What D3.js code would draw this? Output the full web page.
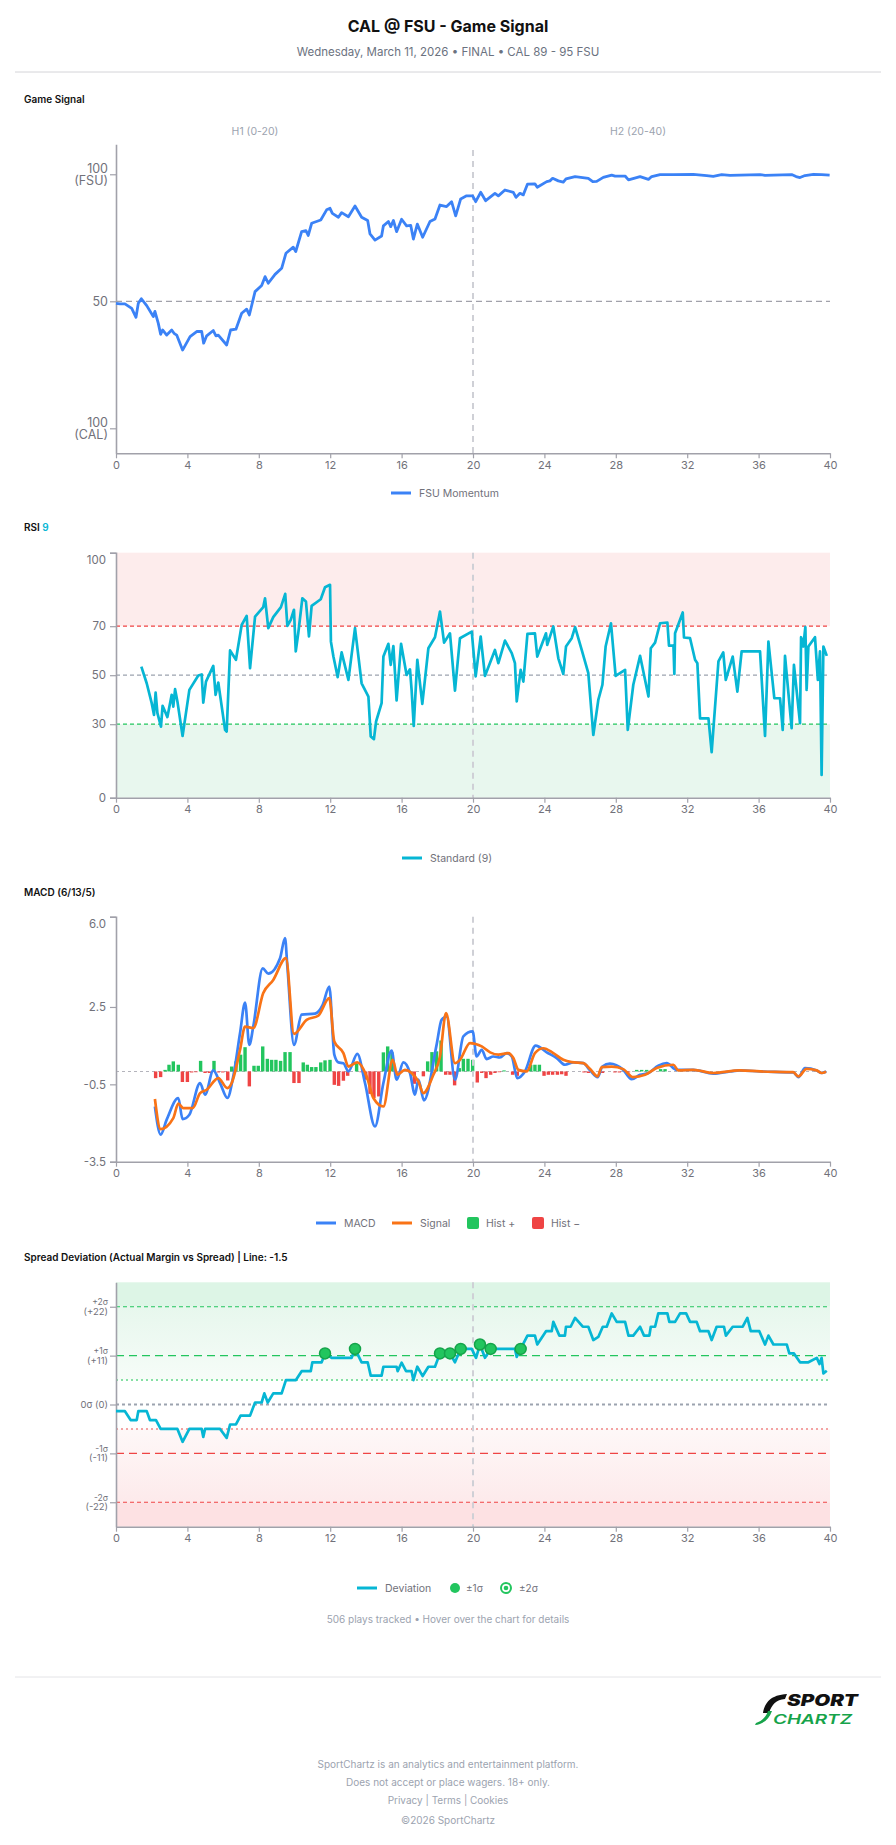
<!DOCTYPE html>
<html><head><meta charset="utf-8">
<script src="https://cdn.jsdelivr.net/npm/d3@7"></script>
<style>
body{margin:0;background:#fff;}
svg{display:block;font-family:Inter,"Noto Sans",sans-serif;}
</style>
</head><body>
<svg id="c" width="896" height="1845"></svg>
<script>
// ---------- DATA ----------
const xTicks = [0,4,8,12,16,20,24,28,32,36,40];
const momentumPts = [[0,49.2],[0.22,49],[0.5,49],[0.88,47.2],[1.12,43.7],[1.25,49.2],[1.42,51],[1.72,48.3],[2.09,44],[2.18,46],[2.37,41.3],[2.5,37],[2.61,38.7],[2.84,36.7],[3.12,38.7],[3.25,37.4],[3.4,36.7],[3.73,30.8],[4.15,36.1],[4.52,38.1],[4.8,38.1],[4.91,33.5],[5.08,36.4],[5.45,38.5],[5.6,36.4],[5.73,36.7],[6.2,32.8],[6.42,38.7],[6.72,39],[7.04,45.3],[7.32,46.9],[7.47,44.6],[7.79,53.8],[8.16,56.2],[8.35,59.7],[8.53,57.1],[8.91,60.6],[9.28,63],[9.52,68.9],[9.93,71.3],[10.07,69.6],[10.4,77.4],[10.64,77.8],[10.77,75.9],[10.96,80.7],[11.47,82],[11.8,86],[11.99,86.6],[12.12,84.6],[12.46,83.1],[12.64,84.9],[13.02,83.3],[13.39,87.5],[13.76,83.1],[14.1,81.8],[14.23,76.5],[14.51,74.1],[14.88,75.7],[14.98,79.7],[15.26,81.4],[15.39,79.4],[15.54,81.8],[15.72,77.4],[16,82.3],[16.28,79.7],[16.51,79.9],[16.66,74.5],[16.88,80.4],[17.18,75.2],[17.59,81.4],[17.87,82.4],[18.15,87.9],[18.52,87.3],[18.8,89.2],[19.03,83.6],[19.31,90.3],[19.64,91.5],[19.98,91.5],[20.15,89.2],[20.43,92.9],[20.71,89.6],[21.23,92.5],[21.42,91.5],[21.79,93.8],[22.26,92.9],[22.41,90.9],[22.63,92.5],[22.82,91.9],[23.05,96.1],[23.47,96.2],[23.6,94.9],[24.13,97.1],[24.31,97.4],[24.46,98.4],[24.78,97.4],[25.06,96.9],[25.21,98.2],[25.72,99.1],[26.46,98.4],[26.71,97.1],[26.93,97.2],[27.3,98.8],[27.77,99.7],[27.96,99.3],[28.52,99.3],[28.71,97.8],[29.36,99.1],[29.83,98],[30.01,99.1],[30.48,99.9],[31.23,99.9],[32.34,100],[33.09,99.5],[33.46,99.2],[33.93,99.9],[34.4,99.6],[36.08,99.9],[36.36,99.6],[36.83,99.7],[37.85,99.9],[38.1,99.1],[38.32,98.7],[38.6,99.5],[39.07,100],[39.53,99.9],[39.98,99.7]];
const rsiPts = [[1.42,53.5],[1.72,46.7],[2.0,38.6],[2.13,33.8],[2.22,42.9],[2.32,34.5],[2.52,29],[2.61,37.5],[2.88,32.9],[3.12,42],[3.21,37.2],[3.31,44.3],[3.44,39.3],[3.73,25.2],[4.11,44],[4.61,49.9],[4.8,50.3],[4.89,38.8],[5.04,47.4],[5.45,53.8],[5.58,42],[5.73,47],[6.11,27.7],[6.2,27],[6.39,60.1],[6.72,56.3],[7.04,70.5],[7.32,74.2],[7.51,52.9],[7.79,73.9],[8.25,77.8],[8.35,81.4],[8.53,69.2],[8.81,73.7],[9.24,77.8],[9.48,83.2],[9.6,70.1],[9.79,72.6],[9.97,76.7],[10.07,59.7],[10.21,67.1],[10.44,81.4],[10.64,80.1],[10.81,65.8],[10.96,78.3],[11.47,81],[11.71,85.9],[11.99,86.9],[12.04,63.7],[12.18,57.6],[12.42,49.2],[12.64,59.3],[13.02,48.1],[13.39,69.2],[13.76,46.7],[14.14,41.3],[14.27,25],[14.45,23.9],[14.57,31.1],[14.88,38.6],[14.98,57.6],[15.26,62.8],[15.39,54.2],[15.54,61.9],[15.72,39.7],[15.97,62.8],[16.28,50.1],[16.47,52.4],[16.56,44],[16.68,29.3],[16.88,56.3],[17.16,38.3],[17.5,61],[17.87,65.5],[18.15,76],[18.38,63.3],[18.71,67.1],[18.99,43.7],[19.27,65.1],[19.93,67.8],[20.15,49.5],[20.43,65.8],[20.67,49.7],[21.23,60.3],[21.42,54.9],[21.79,64.1],[22.17,59],[22.35,54.9],[22.45,39.3],[22.67,52.2],[22.82,47.4],[23.05,66.9],[23.47,67.1],[23.6,57.6],[24.09,67.1],[24.16,62.4],[24.5,69.9],[24.78,56.9],[25.06,50.5],[25.21,61.7],[25.53,65.1],[25.72,69.6],[26.09,60.3],[26.46,50.8],[26.74,25.6],[27.02,39.9],[27.25,46.1],[27.43,61.7],[27.73,71.2],[27.99,49.7],[28.52,52.2],[28.67,27.7],[28.98,46.1],[29.36,57.9],[29.83,41.3],[29.96,61],[30.2,63.3],[30.48,71.2],[30.89,71.5],[30.98,62.1],[31.23,62.1],[31.28,50.5],[31.32,67.1],[31.75,75.6],[31.82,65.4],[32.16,65.1],[32.44,56.3],[32.57,54.9],[32.72,32.4],[33.19,32.4],[33.37,18.6],[33.75,55.6],[34.02,59.3],[34.16,48.1],[34.55,57.6],[34.81,43.3],[35.05,59.7],[36.08,59.7],[36.36,25.2],[36.55,63.7],[36.88,40.6],[37.2,40.6],[37.35,27.7],[37.48,57.9],[37.85,28.4],[37.98,54.2],[38.32,30.4],[38.38,65.5],[38.5,61.7],[38.62,69.6],[38.69,44],[38.79,61.7],[39.16,65.5],[39.32,48.1],[39.44,59.7],[39.53,9.3],[39.63,61.7],[39.82,57.9]];
const rsiTicks = [0,30,50,70,100];
const macdPts = [[2.18,-1.36],[2.5,-2.45],[2.84,-1.87],[3.49,-1.03],[3.73,-1.85],[4.11,-1.68],[4.71,-0.45],[4.99,-0.9],[5.45,0.04],[5.83,-0.45],[6.24,-1.03],[6.57,-0.19],[6.95,1.49],[7.23,2.67],[7.47,1.03],[7.69,1.74],[8.22,4.0],[8.53,3.79],[9.19,4.39],[9.47,5.17],[9.6,4.07],[9.97,1.03],[10.4,2.2],[11.15,2.24],[11.58,2.58],[11.95,3.29],[12.23,0.65],[12.46,0.35],[12.74,0.32],[13.02,0],[13.52,0.68],[13.95,-0.45],[14.51,-2.13],[14.98,-0.45],[15.44,0.81],[15.72,-0.32],[16.1,0.35],[16.47,-0.06],[16.75,-0.9],[16.94,-0.32],[17.25,-1.12],[17.96,1.03],[18.24,2.0],[18.52,2.13],[18.99,-0.32],[19.46,1.36],[19.98,1.55],[20.2,0.58],[20.49,0.84],[20.76,0.48],[21.14,0.58],[21.51,0.54],[21.88,0.71],[22.17,0.58],[22.48,-0.26],[22.91,0],[23.51,1.0],[24.13,0.74],[24.69,0.52],[25.15,0.26],[25.62,0.35],[26.18,0.32],[26.56,0.04],[26.98,-0.22],[27.25,0.19],[27.67,0.3],[28.42,0.06],[28.89,-0.3],[29.36,-0.13],[29.83,-0.06],[30.38,0.22],[30.85,0.32],[31.41,0.06],[32.34,0.06],[33.46,-0.09],[34.4,0],[34.95,0.04],[36.08,0],[37.94,-0.04],[38.23,-0.22],[38.6,0.13],[39.25,0.04],[39.53,-0.06],[39.78,0]];
const signalPts = [[2.18,-1.07],[2.5,-2.24],[3.21,-1.81],[3.49,-1.25],[3.77,-1.42],[4.3,-1.42],[4.71,-0.84],[5.08,-0.71],[5.73,-0.26],[6.24,-0.65],[6.48,-0.45],[6.95,0.84],[7.23,1.74],[7.69,1.68],[8.25,3.04],[8.81,3.55],[9.52,4.39],[9.97,1.46],[10.68,2.0],[11.33,2.16],[11.95,2.84],[12.23,1.16],[12.74,0.71],[13.02,0.19],[13.52,0.35],[14.04,-0.19],[14.42,-1.03],[14.98,-1.36],[15.5,0.45],[15.76,-0.13],[16.19,0.06],[16.56,-0.06],[16.94,-0.39],[17.22,-0.84],[17.78,-0.13],[18.15,0.58],[18.49,2.26],[18.99,0.32],[19.27,0.45],[19.83,1.1],[20.49,0.97],[20.96,0.74],[21.42,0.65],[21.98,0.71],[22.26,0.52],[22.54,0.06],[23.01,0],[23.47,0.71],[23.94,0.9],[24.5,0.71],[25.06,0.45],[25.53,0.36],[26.18,0.32],[26.56,0.09],[26.98,-0.19],[27.21,0.17],[27.77,0.19],[28.42,0.09],[28.95,-0.22],[29.64,-0.13],[30.29,0.13],[31.23,0.26],[31.5,0.04],[32.34,0.06],[33.46,-0.06],[34.95,0.04],[36.08,0],[37.94,-0.03],[38.23,-0.19],[38.69,0.1],[39.25,0.04],[39.53,-0.06],[39.78,-0.01]];
const histPts = [[2.22,-0.26],[2.5,-0.22],[2.75,0.06],[2.97,0.26],[3.21,0.39],[3.49,0.26],[3.72,-0.41],[4.0,-0.41],[4.24,-0.04],[4.48,-0.03],[4.74,0.41],[4.99,-0.06],[5.23,-0.06],[5.49,0.41],[5.73,-0.04],[5.98,-0.04],[6.26,-0.35],[6.48,0.19],[6.72,0.39],[6.98,0.65],[7.23,0.94],[7.47,-0.58],[7.73,0.22],[7.97,0.22],[8.22,0.97],[8.48,0.49],[8.72,0.45],[8.96,0.45],[9.22,0.41],[9.47,0.75],[9.75,0.75],[9.97,-0.45],[10.25,-0.45],[10.49,0.35],[10.72,0.26],[10.96,0.17],[11.2,0.17],[11.47,0.35],[11.71,0.43],[11.99,0.45],[12.23,-0.52],[12.47,-0.56],[12.74,-0.36],[12.98,-0.17],[13.48,0.3],[13.73,-0.03],[13.99,-0.32],[14.23,-0.87],[14.45,-1.03],[14.72,-0.97],[14.98,0.74],[15.22,0.97],[15.46,0.74],[15.72,-0.05],[16.71,-0.48],[17.22,-0.19],[17.46,0.39],[17.7,0.75],[17.96,0.78],[18.21,1.2],[18.47,-0.13],[18.71,-0.13],[18.97,-0.54],[19.23,0.13],[19.46,0.49],[19.72,0.49],[19.98,0.45],[20.24,-0.43],[20.49,-0.06],[20.73,-0.26],[20.99,-0.13],[21.23,-0.06],[21.47,-0.03],[21.74,0.04],[22.22,-0.13],[22.48,-0.17],[22.97,0.04],[23.23,0.26],[23.47,0.26],[23.72,0.26],[23.98,-0.17],[24.22,-0.13],[24.46,-0.13],[24.73,-0.13],[24.97,-0.11],[25.21,-0.17],[26.22,-0.04],[26.46,-0.06],[27.26,-0.06],[27.95,-0.04],[28.2,-0.04],[28.71,-0.04],[29.17,0.06],[29.45,0.06],[29.73,0.06],[30.51,0.09],[30.76,0.09]];
const macdTicks = [-3.5,-0.5,2.5,6.0];
const spreadPts = [[0,-1.5],[0.5,-1.5],[0.82,-3.5],[1.16,-3.5],[1.25,-1.5],[1.72,-1.5],[1.9,-3.5],[2.24,-3.5],[2.5,-5.5],[3.44,-5.5],[3.73,-8.4],[4.11,-5.5],[4.8,-5.5],[4.89,-7.3],[4.99,-5.5],[5.83,-5.5],[6.2,-7.5],[6.39,-4.5],[6.72,-4.5],[6.98,-2.5],[7.51,-2.5],[7.79,0.45],[8.16,0.45],[8.31,2.5],[8.5,0.45],[8.81,2.5],[9.28,2.5],[9.52,5.5],[10.08,5.5],[10.4,7.5],[10.91,7.5],[11.0,9.5],[11.52,9.5],[11.71,11.5],[12.08,10.5],[13.2,10.5],[13.39,12.5],[13.76,9.5],[14.1,9.5],[14.27,6.5],[14.88,6.5],[14.98,8.5],[15.72,8.5],[15.78,7.5],[16.0,9.4],[16.25,7.5],[16.56,7.5],[16.66,5.5],[16.88,8.5],[17.18,6.4],[17.5,8.5],[17.87,8.5],[18.15,11.5],[18.71,11.5],[18.99,9.5],[19.31,12.5],[19.93,12.5],[20.17,10.5],[20.39,13.5],[20.67,10.5],[20.99,12.5],[22.35,12.5],[22.45,10.7],[22.67,12.5],[23.05,15.5],[23.47,15.5],[23.6,13.5],[24.09,16.5],[24.41,16.5],[24.5,18.6],[24.84,15.5],[25.15,15.5],[25.21,17.5],[25.47,17.5],[25.72,19.5],[26.15,17.5],[26.46,17.5],[26.74,14.5],[27.02,15.2],[27.27,17.5],[27.49,17.5],[27.77,20.5],[28.05,18.6],[28.52,18.6],[28.71,15.5],[28.98,15.5],[29.36,17.5],[29.58,15.5],[29.88,15.5],[29.96,17.5],[30.2,17.5],[30.38,20.5],[30.89,20.5],[31.0,18.6],[31.32,18.6],[31.6,20.5],[31.94,20.5],[32.16,18.6],[32.53,18.6],[32.72,16.5],[33.19,16.5],[33.37,14.5],[33.65,17.5],[34.06,17.5],[34.17,15.5],[34.55,17.5],[35.11,17.5],[35.37,19.5],[35.56,16.5],[36.04,16.5],[36.36,13.5],[36.55,15.5],[36.83,13.5],[37.58,13.5],[37.72,11.5],[37.98,11.5],[38.32,9.5],[38.79,9.5],[39.26,10.5],[39.41,9.1],[39.53,10.5],[39.63,7.0],[39.82,7.6]];
const sigmaDots = [[11.71,11.5],[13.39,12.5],[18.15,11.5],[18.71,11.5],[19.31,12.5],[20.39,13.5],[20.99,12.5],[22.67,12.5]];
const spreadTickVals = [22,11,0,-11,-22];
const spreadTickTop = ['+2σ','+1σ','0σ (0)','-1σ','-2σ'];
const spreadTickBottom = ['(+22)','(+11)','','(-11)','(-22)'];

// ---------- SETUP ----------
const svg = d3.select('#c');
const AX = '#a1a1aa', TXT = '#71717a';
const BLUE = '#3b82f6', CYAN = '#06b6d4', ORANGE = '#f97316', GREEN = '#22c55e', RED = '#ef4444';
const x = d3.scaleLinear().domain([0,40]).range([116,830]);

function styleAxis(g, fs){
  g.select('.domain').attr('stroke',AX).attr('stroke-width',1.6);
  g.selectAll('.tick line').attr('stroke',AX).attr('stroke-width',1.2);
  g.selectAll('.tick text').attr('fill',TXT).attr('font-size',fs||11).attr('font-family','Inter, sans-serif');
}
function xAxis(y0){
  const g = svg.append('g').attr('transform',`translate(0,${y0})`)
    .call(d3.axisBottom(x).tickValues(xTicks).tickSize(5).tickSizeOuter(0).tickPadding(3));
  styleAxis(g,11);
}
function hline(y, x1, x2, color, dash, w){
  svg.append('line').attr('x1',x1).attr('x2',x2).attr('y1',y).attr('y2',y)
    .attr('stroke',color).attr('stroke-dasharray',dash).attr('stroke-width',w||1.2);
}
function halftime(y1,y2){
  svg.append('line').attr('x1',x(20)).attr('x2',x(20)).attr('y1',y1).attr('y2',y2)
    .attr('stroke','#cfd0d6').attr('stroke-width',2).attr('stroke-dasharray','6,5');
}
function text(t, xx, yy, opts){
  opts = opts||{};
  return svg.append('text').attr('x',xx).attr('y',yy).text(t)
    .attr('font-size',opts.fs||11).attr('fill',opts.fill||TXT)
    .attr('font-weight',opts.fw||400).attr('text-anchor',opts.anchor||'start')
    .attr('dominant-baseline','central');
}
function legendLine(x1, y, color, label){
  svg.append('line').attr('x1',x1).attr('x2',x1+20).attr('y1',y).attr('y2',y).attr('stroke',color).attr('stroke-width',3);
  text(label, x1+28, y, {fs:10.5});
}

// ---------- HEADER ----------
text('CAL @ FSU - Game Signal', 448, 26, {fs:16, fw:700, fill:'#111'}).attr('text-anchor','middle');
text('Wednesday, March 11, 2026 • FINAL • CAL 89 - 95 FSU', 448, 52, {fs:11.5, fill:'#6b7280', anchor:'middle'});
svg.append('line').attr('x1',15).attr('x2',881).attr('y1',72).attr('y2',72).attr('stroke','#d4d4d8').attr('stroke-width',1);

// ---------- CHART 1: GAME SIGNAL ----------
text('Game Signal', 24, 99, {fs:10, fw:600, fill:'#111'});
text('H1 (0-20)', 255, 131, {fs:10.5, fill:'#9ca3af', anchor:'middle'});
text('H2 (20-40)', 638, 131, {fs:10.5, fill:'#9ca3af', anchor:'middle'});
const ySig = d3.scaleLinear().domain([-9.84,111.8]).range([453.3,144.3]);
hline(ySig(50), 116, 830, '#a1a1aa', '6,4', 1.3);
halftime(150, 453);
{
  const g = svg.append('g').attr('transform','translate(116,0)')
    .call(d3.axisLeft(ySig).tickValues([0,50,100]).tickSize(6).tickSizeOuter(0).tickFormat(()=>''));
  styleAxis(g);
  const lab = {100:['100','(FSU)'],50:['50'],0:['100','(CAL)']};
  [0,50,100].forEach(v=>{
    const L = lab[v];
    if(L.length===1) text(L[0], 108, ySig(v), {fs:12.5, anchor:'end'});
    else { text(L[0],108,ySig(v)-5.5,{fs:12.5,anchor:'end'}); text(L[1],108,ySig(v)+6.5,{fs:12.5,anchor:'end'}); }
  });
}
xAxis(453.3);
svg.append('path').datum(momentumPts)
  .attr('d', d3.line().x(d=>x(d[0])).y(d=>ySig(d[1])))
  .attr('fill','none').attr('stroke',BLUE).attr('stroke-width',2.8).attr('stroke-linejoin','round');
legendLine(391, 493, BLUE, 'FSU Momentum');

// ---------- CHART 2: RSI ----------
{
  const t = text('RSI ', 24, 527, {fs:10, fw:600, fill:'#111'});
  t.append('tspan').attr('fill',CYAN).text('9');
}
const yRsi = d3.scaleLinear().domain([0,100]).range([797.7,552.7]);
svg.append('rect').attr('x',116).attr('width',714).attr('y',yRsi(100)).attr('height',yRsi(70)-yRsi(100)).attr('fill','#fdecec');
svg.append('rect').attr('x',116).attr('width',714).attr('y',yRsi(30)).attr('height',yRsi(0)-yRsi(30)).attr('fill','#e8f7ee');
hline(yRsi(70),116,830,RED,'4,3',1.2);
hline(yRsi(50),116,830,'#9ca3af','4,3',1.2);
hline(yRsi(30),116,830,GREEN,'4,3',1.2);
halftime(552.7, 797.7);
{
  const g = svg.append('g').attr('transform','translate(116,0)')
    .call(d3.axisLeft(yRsi).tickValues(rsiTicks).tickSize(6).tickSizeOuter(6).tickPadding(4));
  styleAxis(g, 11.5);
  g.selectAll('.tick text').filter(d=>d===100).attr('y',7);
}
xAxis(797.7);
svg.append('path').datum(rsiPts)
  .attr('d', d3.line().x(d=>x(d[0])).y(d=>yRsi(d[1])))
  .attr('fill','none').attr('stroke',CYAN).attr('stroke-width',2.7).attr('stroke-linejoin','round');
legendLine(402, 858, CYAN, 'Standard (9)');

// ---------- CHART 3: MACD ----------
text('MACD (6/13/5)', 24, 892, {fs:10, fw:600, fill:'#111'});
const yM = d3.scaleLinear().domain([-3.5,6.0]).range([1161.7,916.7]);
hline(yM(0),116,830,'#b4b4bc','3,3',1.1);
svg.append('g').selectAll('rect').data(histPts).join('rect')
  .attr('x',d=>x(d[0])-1.7).attr('width',3.4)
  .attr('y',d=>Math.min(yM(0),yM(d[1])))
  .attr('height',d=>Math.abs(yM(d[1])-yM(0)))
  .attr('fill',d=>d[1]>=0?GREEN:RED);
halftime(916.7, 1161.7);
{
  const g = svg.append('g').attr('transform','translate(116,0)')
    .call(d3.axisLeft(yM).tickValues(macdTicks).tickSize(6).tickSizeOuter(6).tickPadding(4).tickFormat(d=>d.toFixed(1)));
  styleAxis(g, 11.5);
  g.selectAll('.tick text').filter(d=>d===6.0).attr('y',7);
}
xAxis(1161.7);
const smooth = d3.line().curve(d3.curveMonotoneX);
svg.append('path').attr('d', smooth.x(d=>x(d[0])).y(d=>yM(d[1]))(macdPts))
  .attr('fill','none').attr('stroke',BLUE).attr('stroke-width',2.7);
svg.append('path').attr('d', smooth.x(d=>x(d[0])).y(d=>yM(d[1]))(signalPts))
  .attr('fill','none').attr('stroke',ORANGE).attr('stroke-width',2.7);
legendLine(316, 1223, BLUE, 'MACD');
legendLine(392, 1223, ORANGE, 'Signal');
svg.append('rect').attr('x',467).attr('y',1217).attr('width',12).attr('height',12).attr('rx',2).attr('fill',GREEN);
text('Hist +', 486, 1223, {fs:10.5});
svg.append('rect').attr('x',532).attr('y',1217).attr('width',12).attr('height',12).attr('rx',2).attr('fill',RED);
text('Hist −', 551, 1223, {fs:10.5});

// ---------- CHART 4: SPREAD DEVIATION ----------
text('Spread Deviation (Actual Margin vs Spread) | Line: -1.5', 24, 1257, {fs:10, fw:600, fill:'#111'});
const yS = d3.scaleLinear().domain([-27.5,27.5]).range([1526.7,1282.3]);
const defs = svg.append('defs');
const gg = defs.append('linearGradient').attr('id','gUp').attr('x1',0).attr('x2',0).attr('y1',0).attr('y2',1);
gg.append('stop').attr('offset','0%').attr('stop-color','#e7f7ed');
gg.append('stop').attr('offset','100%').attr('stop-color','#f6fcf8');
const gr = defs.append('linearGradient').attr('id','gDn').attr('x1',0).attr('x2',0).attr('y1',0).attr('y2',1);
gr.append('stop').attr('offset','0%').attr('stop-color','#fef8f8');
gr.append('stop').attr('offset','100%').attr('stop-color','#fdeaeb');
function band(a,b,fill){ svg.append('rect').attr('x',116).attr('width',714).attr('y',yS(a)).attr('height',yS(b)-yS(a)).attr('fill',fill); }
band(27.5,22,'#ddf5e6');
band(22,5.5,'url(#gUp)');
band(-5.5,-22,'url(#gDn)');
band(-22,-27.5,'#fde1e3');
hline(yS(22),116,830,GREEN,'4,3',1.2);
hline(yS(11),116,830,GREEN,'8,5',1.2);
hline(yS(5.5),116,830,'#86e0a4','2,3',2);
hline(yS(0),116,830,'#9ca3af','3,3',2);
hline(yS(-5.5),116,830,'#f3a3a3','2,3',2);
hline(yS(-11),116,830,RED,'8,5',1.2);
hline(yS(-22),116,830,RED,'4,3',1.2);
halftime(1282.3, 1526.7);
{
  const g = svg.append('g').attr('transform','translate(116,0)')
    .call(d3.axisLeft(yS).tickValues(spreadTickVals).tickSize(6).tickSizeOuter(0).tickFormat(()=>''));
  styleAxis(g);
  spreadTickVals.forEach((v,i)=>{
    if(!spreadTickBottom[i]) text(spreadTickTop[i],108,yS(v),{fs:9.5,anchor:'end'});
    else { text(spreadTickTop[i],108,yS(v)-4.5,{fs:8.5,anchor:'end'}); text(spreadTickBottom[i],108,yS(v)+4.5,{fs:9.5,anchor:'end'}); }
  });
}
xAxis(1526.7);
svg.append('path').datum(spreadPts)
  .attr('d', d3.line().x(d=>x(d[0])).y(d=>yS(d[1])))
  .attr('fill','none').attr('stroke',CYAN).attr('stroke-width',2.7).attr('stroke-linejoin','round');
svg.append('g').selectAll('circle').data(sigmaDots).join('circle')
  .attr('cx',d=>x(d[0])).attr('cy',d=>yS(d[1])).attr('r',5.5)
  .attr('fill',GREEN).attr('stroke','#15a34a').attr('stroke-width',1.5);
legendLine(357, 1588, CYAN, 'Deviation');
svg.append('circle').attr('cx',455).attr('cy',1588).attr('r',5).attr('fill',GREEN);
text('±1σ', 466, 1588, {fs:10});
svg.append('circle').attr('cx',506).attr('cy',1588).attr('r',5).attr('fill','#fff').attr('stroke',GREEN).attr('stroke-width',2);
svg.append('circle').attr('cx',506).attr('cy',1588).attr('r',2.3).attr('fill',GREEN);
text('±2σ', 519, 1588, {fs:10});
text('506 plays tracked • Hover over the chart for details', 448, 1619, {fs:10, fill:'#9ca3af', anchor:'middle'});

// ---------- FOOTER ----------
svg.append('line').attr('x1',15).attr('x2',881).attr('y1',1677).attr('y2',1677).attr('stroke','#e4e4e7').attr('stroke-width',1);
svg.append('path').attr('d','M763 1713 C765 1702 771 1695 787 1694 L785 1699 C776 1700 772 1704 769 1713 Z').attr('fill','#111');
svg.append('path').attr('d','M756 1723 C762 1721 766 1717 768 1711 L772 1711 C769 1719 764 1724 755 1725 Z').attr('fill','#16a34a');
svg.append('text').attr('x',787).attr('y',1706).text('SPORT').attr('font-size',15.5).attr('font-weight',900)
  .attr('font-style','italic').attr('fill','#111').attr('textLength',71).attr('lengthAdjust','spacingAndGlyphs');
svg.append('text').attr('x',773).attr('y',1723.5).text('CHARTZ').attr('font-size',13.5).attr('font-weight',600)
  .attr('font-style','italic').attr('fill','#16a34a').attr('textLength',79).attr('lengthAdjust','spacingAndGlyphs');
text('SportChartz is an analytics and entertainment platform.', 448, 1764, {fs:10, fill:'#9ca3af', anchor:'middle'});
text('Does not accept or place wagers. 18+ only.', 448, 1781.5, {fs:10, fill:'#9ca3af', anchor:'middle'});
text('Privacy  |  Terms  |  Cookies', 448, 1800, {fs:10, fill:'#9ca3af', anchor:'middle'});
text('©2026 SportChartz', 448, 1820, {fs:10, fill:'#9ca3af', anchor:'middle'});
</script>
</body></html>
